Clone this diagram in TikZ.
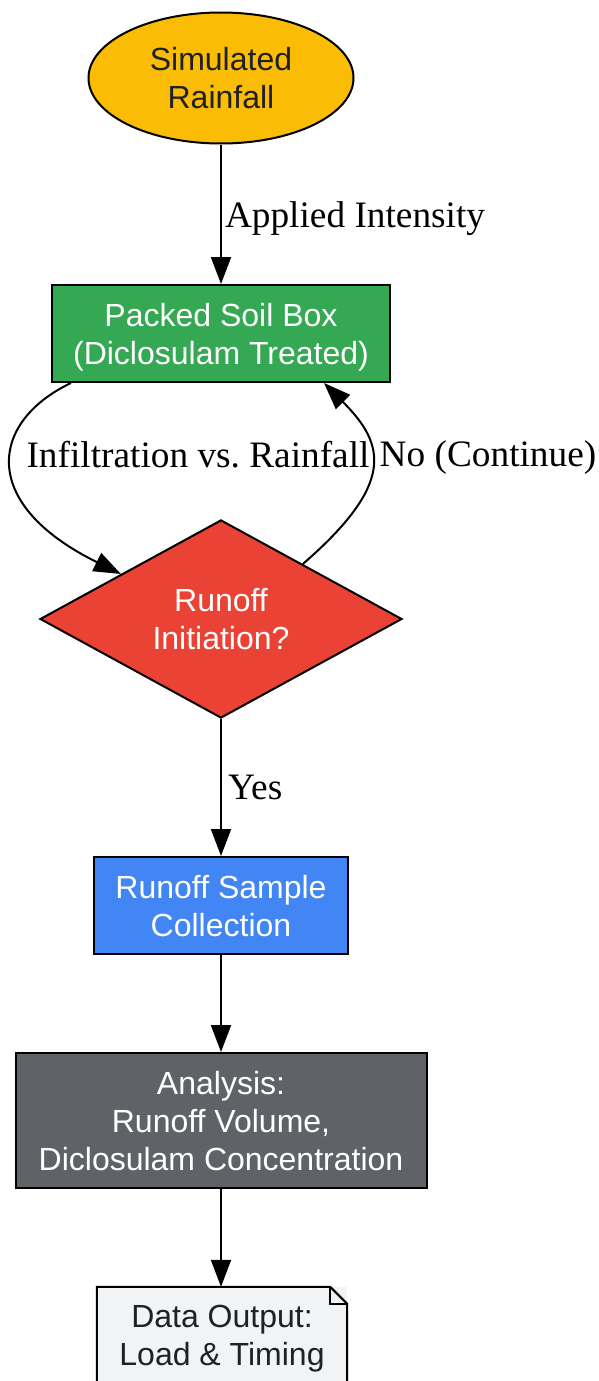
\documentclass[tikz,border=0pt]{standalone}
\usepackage{fontspec}
\setmainfont{Liberation Serif}
\newfontfamily\nodefont{Liberation Sans}
\usetikzlibrary{shapes.geometric,arrows.meta,calc}
\definecolor{gyellow}{HTML}{FBBC05}
\definecolor{ggreen}{HTML}{34A853}
\definecolor{gred}{HTML}{EA4335}
\definecolor{gblue}{HTML}{4285F4}
\definecolor{ggray}{HTML}{5F6368}
\definecolor{glight}{HTML}{F1F3F4}
\definecolor{gdark}{HTML}{202124}
\frenchspacing
\begin{document}
\begin{tikzpicture}[x=1pt,y=-1pt,
  base/.style={draw=black, line width=2pt, inner sep=0pt, align=center, text depth=0pt,
    font=\nodefont\fontsize{32}{38}\selectfont},
  startnode/.style={base, ellipse, fill=gyellow, text=gdark, minimum width=265pt, minimum height=131pt},
  boxnode/.style={base, rectangle, text=white, minimum height=97pt},
  decision/.style={base, diamond, fill=gred, text=white, minimum width=362pt, minimum height=194pt},
  notefill/.style={rectangle, fill=glight, draw=none, inner sep=0pt, align=center, text=gdark, text depth=0pt,
    minimum width=250pt, minimum height=97pt, font=\nodefont\fontsize{32}{38}\selectfont},
  arr/.style={line width=2pt, -{Triangle[length=27pt,width=20pt]}},
  lbl/.style={inner sep=3pt, text depth=0pt, font=\fontsize{37.3}{44}\selectfont, text=black}
]
\useasboundingbox (0,0) rectangle (599,1381);

\node[startnode] (rain) at (221,78) {Simulated\\Rainfall};
\node[boxnode, fill=ggreen, minimum width=338pt] (soil) at (221,333.5) {Packed Soil Box\\(Diclosulam Treated)};
\node[decision] (dia) at (221,619) {Runoff\\Initiation?};
\node[boxnode, fill=gblue, minimum width=254pt] (coll) at (221,905.5) {Runoff Sample\\Collection};
\node[boxnode, fill=ggray, minimum width=411pt, minimum height=135pt] (ana) at (221,1120.5) {Analysis:\\Runoff Volume,\\Diclosulam Concentration};
\node[notefill] (out) at (222,1335.5) {Data Output:\\Load \& Timing};
\draw[line width=2pt, line join=miter] (out.north west) -- ([xshift=-17pt]out.north east)
  -- ([yshift=-17pt]out.north east) -- (out.south east) -- (out.south west) -- cycle;
\draw[line width=2pt] ([xshift=-17pt]out.north east) -- ([xshift=-17pt,yshift=-17pt]out.north east)
  -- ([yshift=-17pt]out.north east);

\draw[arr] (rain.south) -- node[lbl, midway, anchor=west] (l1) {Applied Intensity} (soil.north);
\draw[arr] ($(soil.south west)+(20,0)$) .. controls +(-80,38) and +(-144,-71) .. ($(dia.north)!0.55!(dia.west)$);
\node[lbl] (l2) at (198,454) {Infiltration vs. Rainfall};
\draw[arr] ($(dia.north)!0.45!(dia.east)$) .. controls +(92,-80) and +(62,62) .. ($(soil.south east)+(-67,0)$);
\node[lbl] (l3) at (488,454) {No (Continue)};
\draw[arr] (dia.south) -- node[lbl, midway, anchor=west, xshift=3pt] (l4) {Yes} (coll.north);
\draw[arr] (coll.south) -- (ana.north);
\draw[arr] (ana.south) -- (ana.south |- out.north);
\end{tikzpicture}
\end{document}
